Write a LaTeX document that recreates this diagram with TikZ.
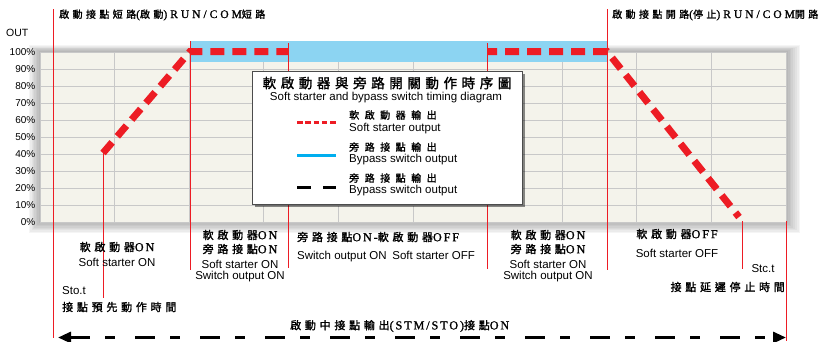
\documentclass[tikz,border=0pt]{standalone}
\usepackage{fontspec}
\setmainfont{Liberation Sans}
\newfontfamily\cjkf[LetterSpace=34,FakeBold=1.6]{Noto Sans CJK TC}
\newfontfamily\serf[Scale=1.1,LetterSpace=16,FakeBold=1.2]{Liberation Serif}
\newfontfamily\serw[Scale=1.15,LetterSpace=26,FakeBold=1.2]{Liberation Serif}
\newcommand\cjkt[1]{{\cjkf #1}}
\newcommand\latn[1]{{\serf #1}}
\newcommand\latw[1]{{\serw #1}}
\usetikzlibrary{arrows.meta}
\definecolor{myred}{RGB}{237,28,36}
\definecolor{chartbg}{RGB}{244,243,235}
\definecolor{gridc}{RGB}{200,200,200}
\definecolor{bandblue}{RGB}{140,212,242}
\definecolor{legblue}{RGB}{0,174,239}
\begin{document}
\begin{tikzpicture}[x=1pt,y=-1pt,
  redv/.style={draw=myred, line width=1pt},
  thickdash/.style={draw=myred, line width=7pt, dash pattern=on 14pt off 8pt},
  en/.style={font=\fontsize{11.5}{13}\selectfont, inner sep=0pt},
  cj/.style={font=\fontsize{11}{13}\selectfont, inner sep=0pt},
  cjs/.style={font=\fontsize{10}{12}\selectfont, inner sep=0pt},
  pct/.style={font=\fontsize{10}{12}\selectfont, inner sep=0pt, anchor=east}]
\useasboundingbox (0,0) rectangle (840,341);
% chart shadow
\foreach \i in {1,...,8}{
  \fill[black, opacity=0.04] (40-1.4*\i,52-0.9*\i) rectangle (786+1.8*\i,222+1.4*\i);
}
\fill[chartbg] (40,52) rectangle (786,222);
\foreach \k in {0,...,10}{
  \draw[gridc, line width=1pt] (40,52+17*\k) -- (786,52+17*\k);
  \draw[gridc, line width=1pt] (40+74.6*\k,52) -- (40+74.6*\k,222);
}
% blue band
\fill[bandblue] (190,41) rectangle (607,62);
% red vertical lines
\draw[redv] (53,9) -- (53,338);
\draw[redv] (103,153) -- (103,298);
\draw[redv] (190,41) -- (190,270);
\draw[redv] (288,43) -- (288,268);
\draw[redv] (487,43) -- (487,269);
\draw[redv] (607,9) -- (607,270);
\draw[redv] (742,221) -- (742,269);
\draw[redv] (786,221) -- (786,341);
% soft starter output
\draw[thickdash] (103,153) -- (190,51.5) -- (288,51.5);
\draw[thickdash, dash phase=4pt] (487,51.5) -- (607,51.5) -- (739,217);
% legend
\fill[black, opacity=0.45] (255,74) rectangle (525,207);
\draw[fill=white, draw=black!70, line width=1pt] (252,71) rectangle (522,204);
\node[font=\fontsize{13.5}{15}\selectfont, inner sep=0pt] (lt) at (387,83) {\cjkt{軟啟動器與旁路開關動作時序圖}};
\node[en, font=\fontsize{11.5}{13}\selectfont] (ls) at (386,98) {Soft starter and bypass switch timing diagram};
\coordinate (l1a) at (297,122); \coordinate (l1b) at (336,122);
\coordinate (l2a) at (297,155); \coordinate (l2b) at (336,155);
\coordinate (l3a) at (297,187); \coordinate (l3b) at (336,187);
\draw[myred, line width=3pt, dash pattern=on 5.5pt off 2.8pt] (l1a) -- (l1b);
\draw[legblue, line width=3pt] (l2a) -- (l2b);
\draw[black, line width=3pt, dash pattern=on 14pt off 12pt] (l3a) -- (l3b);
\node[cjs, anchor=west] (l1c) at (349,115) {\cjkf\addfontfeature{LetterSpace=55}軟啟動器輸出};
\node[en, anchor=west] (l1e) at (349,129) {Soft starter output};
\node[cjs, anchor=west] (l2c) at (349,147) {\cjkf\addfontfeature{LetterSpace=55}旁路接點輸出};
\node[en, anchor=west] (l2e) at (349,160) {Bypass switch output};
\node[cjs, anchor=west] (l3c) at (349,178) {\cjkf\addfontfeature{LetterSpace=55}旁路接點輸出};
\node[en, anchor=west] (l3e) at (349,191) {Bypass switch output};
% axis labels
\node[font=\fontsize{10.5}{12}\selectfont, inner sep=0pt, anchor=west] (out) at (6,33) {OUT};
\foreach \k/\t in {0/100,1/90,2/80,3/70,4/60,5/50,6/40,7/30,8/20,9/10,10/0}{
  \node[pct] (p\k) at (35.5,52+17*\k) {\t\%};
}
% top labels
\node[cjs, anchor=west] (tl) at (59,15) {\cjkt{啟動接點短路}\latw{(}\cjkt{啟動}\latw{)RUN/COM}\cjkt{短路}};
\node[cjs, anchor=west] (tr) at (612,15) {\cjkt{啟動接點開路}\latw{(}\cjkt{停止}\latw{)RUN/COM}\cjkt{開路}};
% bottom labels
\node[cj] (a1) at (117,247) {\cjkt{軟啟動器}\latn{ON}};
\node[en] (a2) at (117,262) {Soft starter ON};
\node[en, anchor=west] (b1) at (62,291) {Sto.t};
\node[cj, anchor=west] (b2) at (62,307) {\cjkt{接點預先動作時間}};
\node[cj] (c1) at (240,235) {\cjkt{軟啟動器}\latn{ON}};
\node[cj] (c2) at (240,249) {\cjkt{旁路接點}\latn{ON}};
\node[en] (c3) at (240,264) {Soft starter ON};
\node[en] (c4) at (240,277) {Switch output ON};
\node[cj, anchor=west] (d1) at (297,237) {\cjkt{旁路接點}\latn{ON-}\cjkt{軟啟動器}\latn{OFF}};
\node[en, anchor=west] (d2) at (297,257) {Switch output ON\enspace Soft starter OFF};
\node[cj] (e1) at (548,235) {\cjkt{軟啟動器}\latn{ON}};
\node[cj] (e2) at (548,249) {\cjkt{旁路接點}\latn{ON}};
\node[en] (e3) at (548,264) {Soft starter ON};
\node[en] (e4) at (548,277) {Switch output ON};
\node[cj] (f1) at (677,234) {\cjkt{軟啟動器}\latn{OFF}};
\node[en] (f2) at (677,253) {Soft starter OFF};
\node[en] (g1) at (763,269) {Stc.t};
\node[cj, anchor=east] (g2) at (785,287) {\cjkt{接點延遲停止時間}};
\node[cj, anchor=west] (h1) at (290,326) {\cjkt{啟動中接點輸出}\latn{(STM/STO)}\cjkt{接點}\latn{ON}};
% bottom arrow
\coordinate (al) at (58,337.5);
\coordinate (ar) at (786,337.5);
\draw[black, line width=3pt, dash pattern=on 20pt off 15pt on 10pt off 20pt,
  {Triangle[length=13pt,width=11pt]}-{Triangle[length=13pt,width=11pt]}] (al) -- (ar);
\end{tikzpicture}
\end{document}
